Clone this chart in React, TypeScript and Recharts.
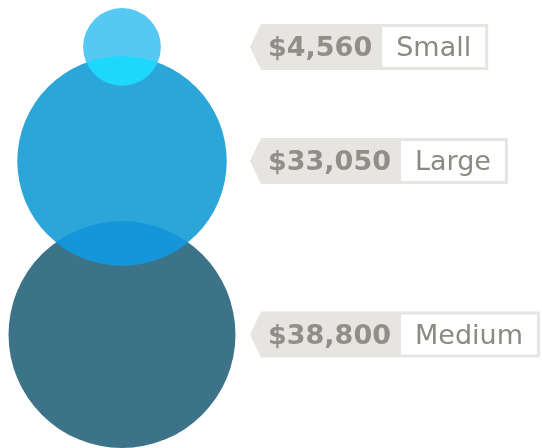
import { ScatterChart, Scatter, XAxis, YAxis, ZAxis, LabelList } from 'recharts'

// top-to-bottom order as they appear in the chart
const categories = ['Small', 'Large', 'Medium']
const amounts = [4560, 33050, 38800]

const COLORS: Record<string, string> = {
  Small: '#55c8f4',
  Large: '#2ca6d9',
  Medium: '#3d7388',
}

const W = 542
const H = 448
const TOP = 8
const PLOT_W = 244
const OVERLAP = 0.795
const FONT = '"DejaVu Sans", sans-serif'

// stack the bubbles vertically in sqrt(value) units so radii and gaps share one scale
const radii = amounts.map((v) => Math.sqrt(v))
const centers: number[] = []
radii.forEach((r, i) => {
  centers.push(i === 0 ? r : centers[i - 1] + OVERLAP * (radii[i - 1] + r))
})
const total = centers[centers.length - 1] + radii[radii.length - 1]
const k = (H - TOP) / total
const maxAmount = Math.max(...amounts)

// largest bubble drawn first so the smaller ones blend on top of it
const rows = categories
  .map((name, i) => ({ name, amount: amounts[i], x: 1, y: centers[i] }))
  .reverse()

let ctx: CanvasRenderingContext2D | null = null
function textWidth(text: string, font: string) {
  if (!ctx) ctx = document.createElement('canvas').getContext('2d')
  if (!ctx) return text.length * 16
  ctx.font = font
  return ctx.measureText(text).width
}

function Bubble(props: any) {
  const { cx, cy, width, payload } = props
  return (
    <circle
      cx={cx}
      cy={cy}
      r={width / 2}
      fill={COLORS[payload.name]}
      style={{ mixBlendMode: 'overlay' }}
    />
  )
}

function Tag(props: any) {
  const vb = props.viewBox ?? props
  const row = rows[props.index]
  if (!row) return null
  const cy = vb.y + vb.height / 2
  const tipX = 250
  const valueText = `$${row.amount.toLocaleString('en-US')}`
  const valueW = textWidth(valueText, `bold 27px ${FONT}`)
  const labelW = textWidth(row.name, `27px ${FONT}`)
  const textX = tipX + 18
  const boxX = textX + valueW + 10
  const boxW = labelW + 28
  const right = boxX + boxW + 3
  const half = 23
  return (
    <g>
      <polygon
        points={`${tipX},${cy} ${tipX + 11},${cy - half} ${right},${cy - half} ${right},${cy + half} ${tipX + 11},${cy + half}`}
        fill="#e6e5e1"
      />
      <rect x={boxX} y={cy - half + 3} width={boxW} height={half * 2 - 6} fill="#ffffff" />
      <text x={textX} y={cy + 9} fontFamily={FONT} fontSize={27} fontWeight="bold" fill="#918e87">
        {valueText}
      </text>
      <text x={boxX + 14} y={cy + 9} fontFamily={FONT} fontSize={27} fill="#8c8982">
        {row.name}
      </text>
    </g>
  )
}

export default function App() {
  return (
    <div style={{ position: 'absolute', left: 0, top: 0, width: W, height: H, isolation: 'isolate', background: '#fff' }}>
      <ScatterChart
        width={W}
        height={H}
        margin={{ top: TOP, right: W - PLOT_W, bottom: 0, left: 0 }}
        style={{ isolation: 'isolate' }}
      >
        <XAxis type="number" dataKey="x" domain={[0, 2]} hide />
        <YAxis type="number" dataKey="y" domain={[0, total]} reversed hide />
        <ZAxis type="number" dataKey="amount" domain={[0, maxAmount]} range={[0, Math.PI * k * k * maxAmount]} />
        <Scatter data={rows} shape={Bubble} isAnimationActive={false}>
          <LabelList dataKey="amount" content={Tag} />
        </Scatter>
      </ScatterChart>
    </div>
  )
}
